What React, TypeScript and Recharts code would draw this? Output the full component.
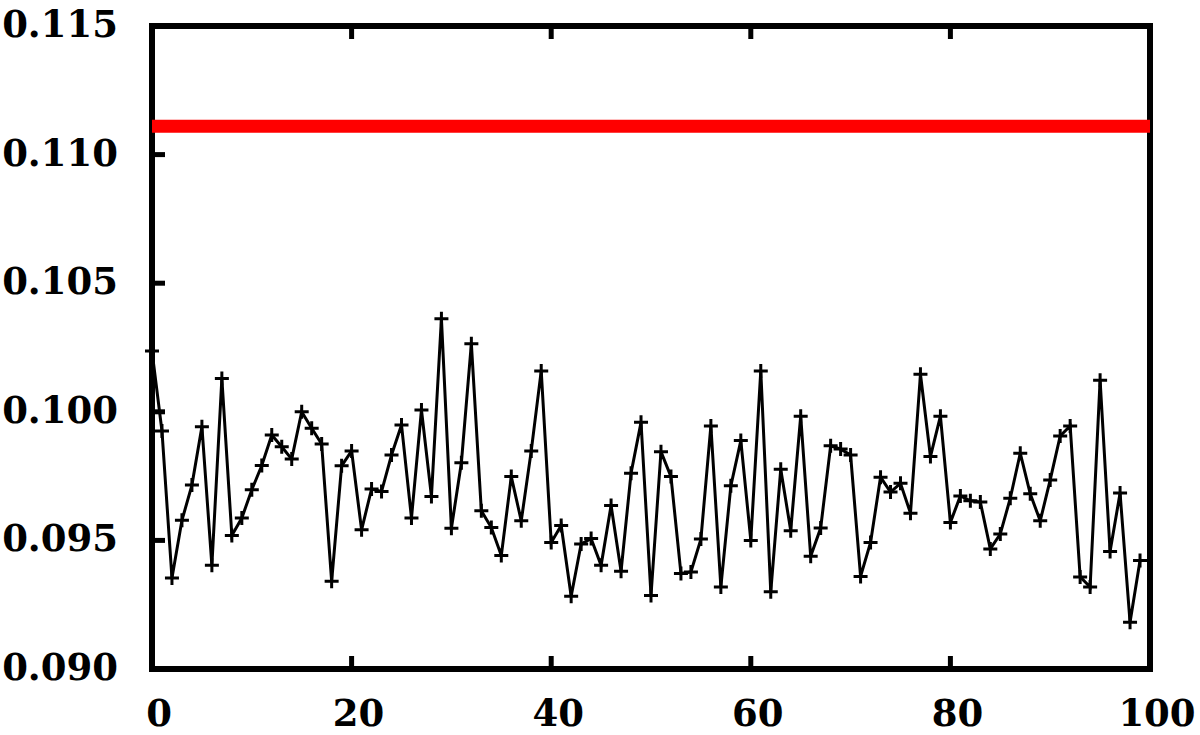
import { LineChart, Line, XAxis, YAxis, ReferenceLine, ReferenceArea } from "recharts"

// y values, one per index 0..99
const values = [
  0.10236, 0.09925, 0.09354, 0.09578, 0.09715, 0.09942, 0.09403, 0.10129, 0.09519, 0.09587,
  0.09697, 0.09791, 0.0991, 0.09864, 0.09816, 0.1, 0.09936, 0.09875, 0.09341, 0.0979,
  0.09848, 0.09541, 0.097, 0.0969, 0.09832, 0.09949, 0.09587, 0.10007, 0.09671, 0.10362,
  0.09547, 0.09802, 0.10265, 0.09615, 0.0955, 0.09441, 0.09748, 0.09576, 0.09848, 0.10159,
  0.09492, 0.09558, 0.09283, 0.09486, 0.09507, 0.09403, 0.09636, 0.0938, 0.09761, 0.09959,
  0.09286, 0.09845, 0.09748, 0.09371, 0.09377, 0.09505, 0.09945, 0.09319, 0.09712, 0.09888,
  0.095, 0.10159, 0.093, 0.09777, 0.09538, 0.09983, 0.09438, 0.09548, 0.09868, 0.09855,
  0.09832, 0.0936, 0.09492, 0.09746, 0.09688, 0.09722, 0.09606, 0.10146, 0.09826, 0.09983,
  0.0957, 0.09673, 0.09654, 0.09649, 0.09467, 0.09525, 0.09664, 0.09839, 0.09681, 0.09576,
  0.09735, 0.09906, 0.09945, 0.09358, 0.09319, 0.10123, 0.09457, 0.09684, 0.09182, 0.09422,
]
const referenceLevel = 0.1111
const xDomain = [0, 100]
const yDomain = [0.09, 0.115]
const xTicks = [0, 20, 40, 60, 80, 100]
const yTicks = [0.09, 0.095, 0.1, 0.105, 0.11, 0.115]

const data = values.map((v, i) => ({ x: i, v }))

const font = { fontFamily: "DejaVu Serif", fontWeight: "bold", fontSize: 37, fill: "#000" }
const TICK = 13

const BottomTick = ({ x, y, payload }: any) => (
  <g>
    <line x1={x} x2={x} y1={y} y2={y - TICK} stroke="#000" strokeWidth={5} />
    <text x={x + 7} y={y + 57} textAnchor="middle" style={font}>
      {payload.value}
    </text>
  </g>
)

const TopTick = ({ x, y }: any) => (
  <line x1={x} x2={x} y1={y} y2={y + TICK} stroke="#000" strokeWidth={5} />
)

const LeftTick = ({ x, y, payload }: any) => (
  <g>
    <line x1={x} x2={x + TICK} y1={y} y2={y} stroke="#000" strokeWidth={5} />
    <text x={x - 34} y={y + 11} textAnchor="end" style={font}>
      {Number(payload.value).toFixed(3)}
    </text>
  </g>
)

const RightTick = ({ x, y }: any) => (
  <line x1={x} x2={x - TICK} y1={y} y2={y} stroke="#000" strokeWidth={5} />
)

const PlusDot = ({ cx, cy, index }: any) => (
  <path key={index} d={`M${cx - 7},${cy}H${cx + 7}M${cx},${cy - 7}V${cy + 7}`} stroke="#000" strokeWidth={3} fill="none" />
)

const axisCommon = {
  tickSize: 0,
  tickMargin: 0,
  tickLine: false,
  axisLine: false,
  interval: 0 as const,
}

export default function App() {
  return (
    <div style={{ width: 1200, height: 735, background: "#fff" }}>
      <style>{"body{margin:0}"}</style>
      <LineChart width={1200} height={735} data={data} margin={{ top: 0, right: 0, bottom: 0, left: 0 }}>
        <XAxis dataKey="x" type="number" domain={xDomain} ticks={xTicks} height={66} tick={<BottomTick />} {...axisCommon} />
        <XAxis xAxisId="top" orientation="top" dataKey="x" type="number" domain={xDomain} ticks={xTicks} height={26} tick={<TopTick />} {...axisCommon} />
        <YAxis type="number" domain={yDomain} ticks={yTicks} width={152} tick={<LeftTick />} {...axisCommon} />
        <YAxis yAxisId="right" orientation="right" type="number" domain={yDomain} ticks={yTicks} width={50} tick={<RightTick />} {...axisCommon} />
        <ReferenceLine y={referenceLevel} stroke="#ff0000" strokeWidth={13} />
        <ReferenceArea
          x1={xDomain[0]}
          x2={xDomain[1]}
          y1={yDomain[0]}
          y2={yDomain[1]}
          ifOverflow="visible"
          fill="none"
          fillOpacity={0}
          stroke="#000"
          strokeWidth={6}
          strokeOpacity={1}
        />
        <Line
          type="linear"
          dataKey="v"
          stroke="#000"
          strokeWidth={3}
          dot={<PlusDot />}
          activeDot={false}
          isAnimationActive={false}
        />
      </LineChart>
    </div>
  )
}
